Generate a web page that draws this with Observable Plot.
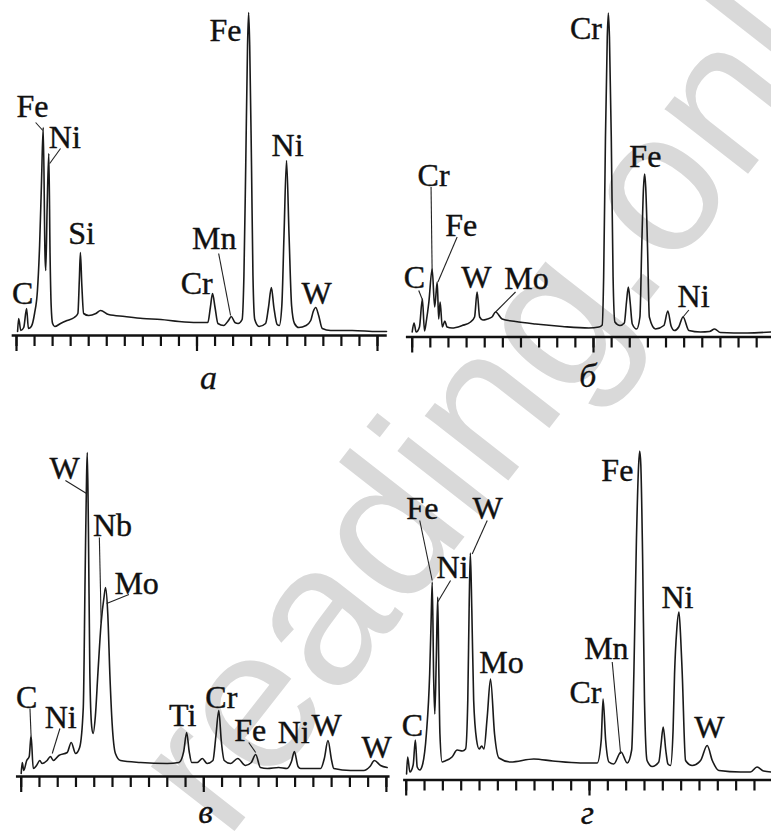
<!DOCTYPE html>
<html>
<head>
<meta charset="utf-8">
<script src="https://cdn.jsdelivr.net/npm/d3@7"></script>
<script src="https://cdn.jsdelivr.net/npm/@observablehq/plot@0.6"></script>
<style>
  body { margin: 0; background: #fff; }
  #fig { position: relative; width: 771px; height: 834px; overflow: hidden; background: #fff; }
  #fig svg { position: absolute; left: 0; top: 0; background: transparent; }
  #fig svg.panel text { font-family: "Liberation Serif", "Times New Roman", serif !important; }
  #fig svg.wm text { font-family: "Liberation Sans", Arial, sans-serif; }
</style>
</head>
<body>
<div id="fig"></div>
<script>
// ---------- shared axis ticks (keV) ----------
const minorTicks = [0,0.5,1,1.5,2,2.5,3,3.5,4,4.5,5,5.5,6,6.5,7,7.5,8,8.5,9,9.5,10];
const majorTicks = [0,5,10];

// ---------- panel а ----------
const aKeV = [0.03,0.06,0.12,0.20,0.28,0.33,0.41,0.50,0.58,0.64,0.69,0.74,0.79,0.81,0.85,0.895,0.93,0.96,1.00,1.06,1.22,1.40,1.60,1.70,1.74,1.77,1.81,1.86,2.00,2.20,2.33,2.55,3.0,3.5,4.0,4.5,5.0,5.30,5.37,5.43,5.50,5.58,5.74,5.87,5.95,6.05,6.14,6.25,6.30,6.35,6.40,6.43,6.46,6.51,6.55,6.60,6.72,6.90,6.98,7.06,7.13,7.22,7.28,7.35,7.41,7.48,7.55,7.62,7.70,7.82,8.02,8.15,8.22,8.29,8.37,8.47,8.70,9.3,10.0,10.25];
const aCounts = [4,17,5,8,27,7,9,22,45,90,150,208,80,65,130,182,80,30,12,9,12,15,18,22,55,83,50,22,20,22,25,21,19,17,16,14,13,13,28,42,28,12,10,15,19,13,12,16,60,170,290,323,290,170,60,16,9,12,28,48,28,11,10,30,100,175,100,30,12,8,10,15,24,28,20,7,5,5,4,4];
const aLabels = ["C","Fe","Ni","Si","Cr","Mn","Fe","Ni","W"];
const aLabelKeV = [0.17,0.44,1.34,1.80,4.99,5.48,5.79,7.51,8.31];
const aLabelY = [32,219,188,92,42,87,295,180,32];
const aLeadKeV1 = [0.53,1.22,5.60];
const aLeadY1 = [213,187,82];
const aLeadKeV2 = [0.73,0.92,5.93];
const aLeadY2 = [205,172,20];

// ---------- panel б ----------
const bKeV = [0.00,0.05,0.11,0.20,0.28,0.34,0.39,0.46,0.55,0.62,0.69,0.73,0.77,0.83,0.90,0.96,1.10,1.38,1.61,1.72,1.79,1.86,1.95,2.07,2.20,2.30,2.48,2.85,3.40,4.14,4.87,5.15,5.24,5.28,5.33,5.38,5.41,5.44,5.49,5.54,5.59,5.73,5.85,5.91,5.96,6.01,6.07,6.19,6.28,6.33,6.38,6.41,6.44,6.49,6.54,6.71,6.94,7.05,7.14,7.23,7.35,7.47,7.63,7.95,8.20,8.34,8.50,9.24,9.9];
const bCounts = [5,14,5,10,38,6,16,35,68,30,55,18,35,10,16,10,9,11.5,15,20,45,20,17,18,20,25,18,15.5,13,10.5,9,10,12,60,200,300,324,300,200,60,15,11.5,14,35,50,35,13,8,20,90,150,163,150,90,20,8,11.5,26,11,6.5,10,20,6.5,5,5.5,8,4.5,4,5];
const bLabels = ["C","Cr","Fe","W","Mo","Cr","Fe","Ni"];
const bLabelKeV = [0.06,0.59,1.35,1.77,3.15,4.79,6.43,7.76];
const bLabelY = [49.5,151.5,101.5,49.5,48.5,298.5,170,30];
const bLeadKeV1 = [0.18,0.52,1.24,2.85,7.63];
const bLeadY1 = [46.5,150,100,45,27];
const bLeadKeV2 = [0.29,0.55,0.71,2.30,7.47];
const bLeadY2 = [36.5,65,55,25,20];

// ---------- panel в ----------
const cKeV = [0.00,0.03,0.07,0.15,0.22,0.27,0.33,0.42,0.51,0.57,0.71,0.80,0.88,1.03,1.26,1.37,1.49,1.60,1.70,1.75,1.79,1.81,1.84,1.88,1.93,1.97,2.03,2.10,2.19,2.27,2.31,2.37,2.43,2.49,2.58,2.72,3.27,4.00,4.32,4.45,4.53,4.60,4.67,4.82,4.96,5.09,5.25,5.33,5.41,5.48,5.56,5.73,5.93,6.14,6.30,6.42,6.55,6.74,7.05,7.28,7.40,7.48,7.58,7.65,8.20,8.30,8.40,8.50,8.56,9.02,9.38,9.55,9.67,9.84,10.02];
const cCounts = [3,14,6,16,20,41,8,11,16,13,16,20,16,21,24,34,23,29,69,200,300,324,250,103,50,43,60,103,154,180,189,163,100,53,23,16,14,13,14,25,44,25,14,14,18,13,16,40,66,35,16,13,18,11,14,22,9,8,9,8,15,25,10,8,8,18,36,16,8,6,6,10,16,11,9];
const cLabels = ["W","Nb","Mo","C","Ni","Ti","Cr","Fe","Ni","W","W"];
const cLabelKeV = [1.19,2.50,3.16,0.15,1.08,4.42,5.48,6.27,7.46,8.36,9.73];
const cLabelY = [298,241,183,69,49,51,69,36,34,41,19];
const cLeadKeV1 = [1.21,2.14,2.95,0.24,1.06,6.23];
const cLeadY1 = [296,239,182,68,48,34];
const cLeadKeV2 = [1.79,2.19,2.34,0.27,0.85,6.42];
const cLeadY2 = [283,154,173,41,23,24];

// ---------- panel г ----------
const dKeV = [0.01,0.04,0.10,0.19,0.25,0.30,0.37,0.45,0.55,0.64,0.68,0.71,0.75,0.78,0.82,0.86,0.89,0.92,0.98,1.06,1.25,1.39,1.53,1.62,1.68,1.72,1.75,1.79,1.84,1.92,1.99,2.06,2.12,2.21,2.30,2.41,2.53,2.85,3.48,4.0,4.75,5.21,5.32,5.37,5.44,5.53,5.66,5.86,6.03,6.15,6.21,6.28,6.34,6.37,6.40,6.45,6.50,6.57,6.71,6.89,6.95,7.01,7.08,7.14,7.21,7.28,7.32,7.38,7.44,7.49,7.53,7.62,7.80,8.03,8.21,8.35,8.53,9.12,9.39,9.57,9.75,9.97];
const dCounts = [6,23,8,15,40,13,10,16,46,106,160,198,100,66,120,183,110,46,18,19,23,30,29,31,80,180,227,170,80,40,31,34,31,63,101,46,22,18,21,19,17,17,40,81,40,18,16,28,17,30,106,240,315,329,315,220,80,19.5,13.5,18,35,53,30,16,14.5,50,106,150,168,140,106,19.5,14.5,19.5,34.5,19.5,9.5,8,8,13,9,8];
const dLabels = ["Fe","W","Ni","Mo","C","Mn","Cr","Fe","Ni","W"];
const dLabelKeV = [0.44,2.22,1.26,2.60,0.17,5.46,4.89,5.76,7.40,8.27];
const dLabelY = [261.5,261.5,202.5,107.5,44.5,121.5,77.5,299.5,172.5,42.5];
const dLeadKeV1 = [0.37,2.21,1.21,5.62];
const dLeadY1 = [259.5,259.5,199.5,118];
const dLeadKeV2 = [0.71,1.80,0.86,5.85];
const dLeadY2 = [199.5,226,178,26];

// panel captions (Cyrillic letters) and their anchor (keV, height)
const captions = ["а","б","в","г"];
const captionKeV = [5.32,4.84,5.05,4.94];
const captionY = [-53,-50,-46,-44];

// watermark text over the whole figure
const watermark = "reading.online";

// ---------- layout of each panel in the 771x834 figure ----------
const panels = [
  {keV:aKeV, counts:aCounts, labels:aLabels, lk:aLabelKeV, ly:aLabelY, k1:aLeadKeV1, y1:aLeadY1, k2:aLeadKeV2, y2:aLeadY2, x0:16, x10:377, axisY:335, axisFrom:-0.12, axisTo:10.27},
  {keV:bKeV, counts:bCounts, labels:bLabels, lk:bLabelKeV, ly:bLabelY, k1:bLeadKeV1, y1:bLeadY1, k2:bLeadKeV2, y2:bLeadY2, x0:411.7, x10:774.3, axisY:336.5, axisFrom:-0.16, axisTo:10.2},
  {keV:cKeV, counts:cCounts, labels:cLabels, lk:cLabelKeV, ly:cLabelY, k1:cLeadKeV1, y1:cLeadY1, k2:cLeadKeV2, y2:cLeadY2, x0:20.7, x10:385.9, axisY:776, axisFrom:-0.13, axisTo:10.1},
  {keV:dKeV, counts:dCounts, labels:dLabels, lk:dLabelKeV, ly:dLabelY, k1:dLeadKeV1, y1:dLeadY1, k2:dLeadKeV2, y2:dLeadY2, x0:405.7, x10:772.3, axisY:779.5, axisFrom:-0.07, axisTo:10.2}
];

const fig = document.getElementById("fig");
const serif = "Liberation Serif";

// watermark layer (behind the spectra)
const wm = d3.create("svg").attr("class", "wm").attr("width", 771).attr("height", 834);
wm.append("text")
  .attr("transform", "translate(226,842) rotate(-52)")
  .attr("font-size", 200)
  .attr("fill", "#d9d9d9")
  .text(watermark);
fig.appendChild(wm.node());

panels.forEach((p, i) => {
  const trace = p.keV.map((e, j) => ({e, h: p.counts[j]}));
  const labels = p.labels.map((t, j) => ({t, e: p.lk[j], h: p.ly[j]}));
  const leaders = p.k1.map((e, j) => ({e1: e, h1: p.y1[j], e2: p.k2[j], h2: p.y2[j]}));
  const cap = [{t: captions[i], e: captionKeV[i], h: captionY[i]}];
  const chart = Plot.plot({
    width: 771,
    height: 834,
    marginTop: 0,
    marginLeft: 0,
    marginRight: 0,
    marginBottom: 834 - p.axisY,
    style: {background: "transparent", overflow: "visible"},
    x: {domain: [0, 10], range: [p.x0, p.x10], axis: null},
    y: {domain: [0, 330], range: [p.axisY, p.axisY - 330], axis: null},
    marks: [
      Plot.ruleY([0], {x1: p.axisFrom, x2: p.axisTo, stroke: "#111", strokeWidth: 2.6}),
      Plot.axisX({ticks: minorTicks, tickSize: 11, tickFormat: () => "", strokeWidth: 2.2, stroke: "#111", label: null}),
      Plot.axisX({ticks: majorTicks, tickSize: 16, tickFormat: () => "", strokeWidth: 2.2, stroke: "#111", label: null}),
      Plot.line(trace, {x: "e", y: "h", curve: "monotone-x", stroke: "#1a1a1a", strokeWidth: 1.6}),
      Plot.link(leaders, {x1: "e1", y1: "h1", x2: "e2", y2: "h2", stroke: "#222", strokeWidth: 1.1}),
      Plot.text(labels, {x: "e", y: "h", text: "t", fontSize: 32, fontFamily: serif, lineAnchor: "bottom", fill: "#111", stroke: "#111", strokeWidth: 0.4}),
      Plot.text(cap, {x: "e", y: "h", text: "t", fontSize: 34, fontFamily: serif, fontStyle: "italic", lineAnchor: "bottom", fill: "#111", stroke: "#111", strokeWidth: 0.3})
    ]
  });
  chart.classList.add("panel");
  fig.appendChild(chart);
});
</script>
</body>
</html>
